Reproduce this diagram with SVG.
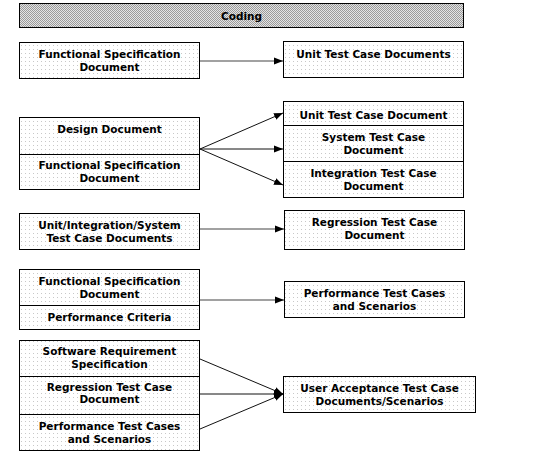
<svg xmlns="http://www.w3.org/2000/svg" width="555" height="462" viewBox="0 0 555 462">
<defs>
<pattern id="dots" width="4" height="4" patternUnits="userSpaceOnUse">
<rect width="4" height="4" fill="#ffffff"/>
<rect x="1" y="1" width="1" height="1" fill="#c8c8c8"/>
</pattern>
<pattern id="checker" width="2" height="2" patternUnits="userSpaceOnUse">
<rect width="2" height="2" fill="#e4e4e4"/>
<rect x="0" y="0" width="1" height="1" fill="#9a9a9a"/>
<rect x="1" y="1" width="1" height="1" fill="#9a9a9a"/>
</pattern>
<marker id="arr" markerUnits="userSpaceOnUse" markerWidth="10" markerHeight="8" refX="9" refY="4" orient="auto">
<path d="M0,0.5 L9,4 L0,7.5 Z" fill="#000"/>
</marker>
</defs>
<style>
.box{fill:url(#dots);stroke:#000;stroke-width:1}
.bar{fill:url(#checker);stroke:#000;stroke-width:1}
.div{stroke:#000;stroke-width:1}
text{font-family:"DejaVu Sans","Verdana",sans-serif;font-weight:bold;font-size:10.5px;fill:#000;text-anchor:middle}
.h{stroke:#444;stroke-width:1.2;fill:none;marker-end:url(#arr)}
.d{stroke:#111;stroke-width:1;fill:none;marker-end:url(#arr)}
</style>

<g id="coding">
<rect class="bar" x="19.5" y="3.5" width="444" height="24"/>
<text x="241.5" y="20">Coding</text>
</g>

<g id="fsd1">
<rect class="box" x="19.5" y="42.5" width="180" height="36"/>
<text x="109.5" y="57.5">Functional Specification</text>
<text x="109.5" y="70.5">Document</text>
</g>
<g id="utcd1">
<rect class="box" x="283.5" y="41.5" width="180" height="36"/>
<text x="373.5" y="57.5">Unit Test Case Documents</text>
</g>

<g id="design-fsd">
<rect class="box" x="19.5" y="117.5" width="180" height="72"/>
<line class="div" x1="19.5" y1="154.5" x2="199.5" y2="154.5"/>
<text x="109.5" y="133">Design Document</text>
<text x="109.5" y="169">Functional Specification</text>
<text x="109.5" y="182">Document</text>
</g>
<g id="test-docs">
<rect class="box" x="283.5" y="101.5" width="180" height="96"/>
<line class="div" x1="283.5" y1="125.5" x2="463.5" y2="125.5"/>
<line class="div" x1="283.5" y1="161.5" x2="463.5" y2="161.5"/>
<text x="373.5" y="118.5">Unit Test Case Document</text>
<text x="373.5" y="141">System Test Case</text>
<text x="373.5" y="154">Document</text>
<text x="373.5" y="177">Integration Test Case</text>
<text x="373.5" y="190">Document</text>
</g>

<g id="uis">
<rect class="box" x="19.5" y="213.5" width="180" height="36"/>
<text x="109.5" y="228.5">Unit/Integration/System</text>
<text x="109.5" y="241.5">Test Case Documents</text>
</g>
<g id="rtcd">
<rect class="box" x="284.5" y="210.5" width="180" height="39"/>
<text x="374.5" y="225.5">Regression Test Case</text>
<text x="374.5" y="239">Document</text>
</g>

<g id="fsd-perf">
<rect class="box" x="19.5" y="269.5" width="180" height="60"/>
<line class="div" x1="19.5" y1="305.5" x2="199.5" y2="305.5"/>
<text x="109.5" y="285">Functional Specification</text>
<text x="109.5" y="298">Document</text>
<text x="109.5" y="321">Performance Criteria</text>
</g>
<g id="ptcs">
<rect class="box" x="284.5" y="281.5" width="180" height="36"/>
<text x="374.5" y="296.5">Performance Test Cases</text>
<text x="374.5" y="309.5">and Scenarios</text>
</g>

<g id="uat-inputs">
<rect class="box" x="19.5" y="340.5" width="180" height="110"/>
<line class="div" x1="19.5" y1="376.5" x2="199.5" y2="376.5"/>
<line class="div" x1="19.5" y1="414.5" x2="199.5" y2="414.5"/>
<text x="109.5" y="355">Software Requirement</text>
<text x="109.5" y="367.5">Specification</text>
<text x="109.5" y="390.5">Regression Test Case</text>
<text x="109.5" y="403">Document</text>
<text x="109.5" y="429.5">Performance Test Cases</text>
<text x="109.5" y="442.5">and Scenarios</text>
</g>
<g id="uat">
<rect class="box" x="283.5" y="376.5" width="192" height="36"/>
<text x="379.5" y="392">User Acceptance Test Case</text>
<text x="379.5" y="404.5">Documents/Scenarios</text>
</g>

<g id="connectors">
<line class="h" x1="200" y1="61" x2="283" y2="61"/>
<line class="d" x1="200" y1="149" x2="283" y2="113"/>
<line class="d" x1="200" y1="149" x2="283" y2="149"/>
<line class="d" x1="200" y1="149" x2="283" y2="185"/>
<line class="h" x1="200" y1="229" x2="284" y2="229"/>
<line class="h" x1="200" y1="300" x2="284" y2="300"/>
<line class="d" x1="200" y1="359" x2="283" y2="394"/>
<line class="d" x1="200" y1="394" x2="283" y2="394"/>
<line class="d" x1="200" y1="429" x2="283" y2="394"/>
</g>
</svg>
